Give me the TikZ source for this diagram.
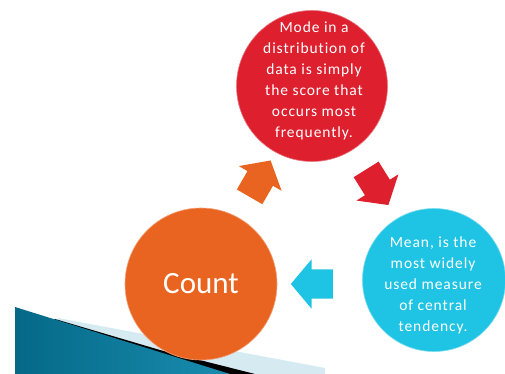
\documentclass[tikz,border=0pt]{standalone}
\usepackage{fontspec}
\setmainfont{Carlito}
\newfontfamily\slidefont{Carlito}[LetterSpace=6, Ligatures=NoCommon]
\usetikzlibrary{shapes, positioning}

\definecolor{modered}{RGB}{221, 31, 46}
\definecolor{countorange}{RGB}{233, 100, 32}
\definecolor{meanblue}{RGB}{31, 196, 228}
\definecolor{swoopdark}{RGB}{5, 105, 135}
\definecolor{swooplight}{RGB}{95, 186, 216}
\definecolor{swoopright}{RGB}{25, 140, 175}
\definecolor{striplight}{RGB}{214, 234, 242}

\tikzset{
  bubble/.style={circle, inner sep=0pt, minimum size=#1},
  bubbletext/.style={text=white, align=center, font=\slidefont\fontsize{15.5}{21}\selectfont},
  blockarrow/.style={single arrow, inner xsep=0pt, inner ysep=14.5pt, minimum height=42pt,
    minimum width=49pt, single arrow head extend=10pt, single arrow tip angle=100}
}

\begin{document}
\begin{tikzpicture}[x=1pt, y=-1pt]
  \useasboundingbox (0,0) rectangle (505,374);

  % slide swoosh, bottom left
  \fill[striplight] (58,318) -- (325,368) -- (325,374) -- (15,374) -- cycle;
  \fill[black] (55,319) -- (160,350) -- (255,374) -- (15,374) -- cycle;
  \shade[left color=swoopdark, middle color=swooplight, right color=swoopright]
    (15,307) -- (230,374) -- (15,374) -- cycle;

  % circles
  \node[bubble=151pt, fill=modered, draw=modered!60!white, line width=0.6pt] (mode) at (312,86) {};
  \node[bubble=143pt, fill=meanblue, draw=meanblue!60!white, line width=0.6pt] (mean) at (434,280) {};
  \node[bubble=152pt, fill=countorange, draw=countorange!60!white, line width=0.6pt] (count) at (201,284) {};

  % texts
  \node[bubbletext] (mode text) at (314,81) {Mode in a\\distribution of\\data is simply\\the score that\\occurs most\\frequently.};
  \node[bubbletext] (mean text) at (433,285) {Mean, is the\\most widely\\used measure\\of central\\tendency.};
  \node[text=white, font=\fontsize{31}{36}\selectfont] (count text) at (count.center) {Count};

  % block arrows
  \node[blockarrow, fill=countorange, rotate=60] (count arrow) at (257,184) {};
  \node[blockarrow, fill=modered, rotate=-58] (mode arrow) at (374,182) {};
  \node[blockarrow, fill=meanblue, rotate=180] (mean arrow) at (318,284) {};
\end{tikzpicture}
\end{document}
